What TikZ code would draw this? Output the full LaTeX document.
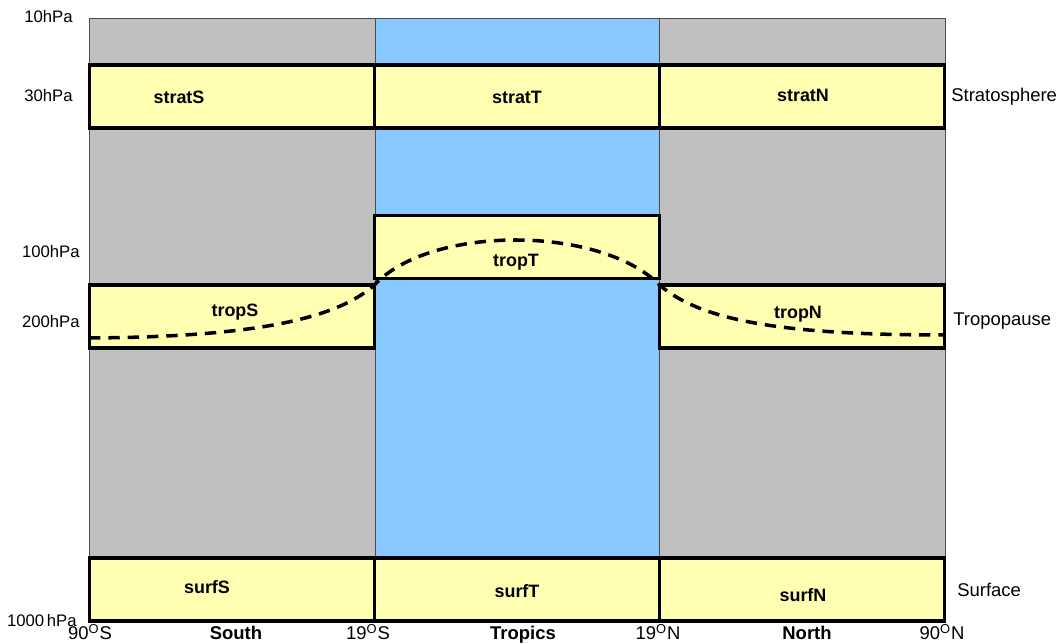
\documentclass[tikz,border=0pt]{standalone}
\usepackage{fontspec}
\setmainfont{Liberation Sans}
\usetikzlibrary{positioning}
\definecolor{bandgray}{RGB}{192,192,192}
\definecolor{tropblue}{RGB}{134,200,255}
\definecolor{boxyellow}{RGB}{255,255,178}

\begin{document}
\begin{tikzpicture}[
  x=0.02cm, y=-0.02cm,
  font=\fontsize{10.5}{12}\selectfont,
  box/.style={draw, line width=1.8pt, fill=boxyellow, outer sep=0pt, inner sep=0pt, minimum width=5.7cm, minimum height=1.26cm},
  tag/.style={font=\fontsize{10.2}{12}\selectfont\bfseries},
  lev/.style={anchor=east, inner sep=0pt, font=\fontsize{9.5}{11}\selectfont},
  zone/.style={anchor=west, inner sep=0pt},
  lat/.style={anchor=base, inner sep=0pt},
  latb/.style={lat, font=\fontsize{10.5}{12}\selectfont\bfseries},
  tropline/.style={line width=2pt, dash pattern=on 6.5pt off 4.5pt}
]
\useasboundingbox (0,0) rectangle (1062,644);
% latitude bands
\fill[bandgray] (89,18) rectangle (945,621);
\fill[tropblue] (375,18) rectangle (659,621);
\draw[gray!60!black, line width=0.5pt] (89,18) rectangle (945,621);
\draw[gray!60!black, line width=0.4pt] (375,18) -- (375,621) (659,18) -- (659,621);

% boxes
\node[box] (stratS) at (232,96.5) {};
\node[box, right=0pt of stratS] (stratT) {};
\node[box, right=0pt of stratT] (stratN) {};
\node[box] (tropS) at (232,316.5) {};
\node[box] (tropT) at (517,247) {};
\node[box] (tropN) at (802,316.5) {};
\node[box] (surfS) at (232,589.5) {};
\node[box, right=0pt of surfS] (surfT) {};
\node[box, right=0pt of surfT] (surfN) {};

\node[tag] (lstratS) at (179,97.5) {stratS};
\node[tag] (lstratT) at (517,97) {stratT};
\node[tag] (lstratN) at (803,95) {stratN};
\node[tag] (ltropS) at (235,312) {tropS};
\node[tag] (ltropT) at (516,262) {tropT};
\node[tag] (ltropN) at (798,314) {tropN};
\node[tag] (lsurfS) at (207,587) {surfS};
\node[tag] (lsurfT) at (517,591) {surfT};
\node[tag] (lsurfN) at (803,595) {surfN};

% tropopause
\draw[tropline] (89,338) .. controls (250,337) and (335,320) .. (tropS.north east)
  .. controls (430,225) and (600,225) .. (tropN.north west)
  .. controls (700,320) and (780,335) .. (945,335);

% pressure levels
\node[lev] (p10) at (73,17) {10hPa};
\node[lev] (p30) at (73,96) {30hPa};
\node[lev] (p100) at (80,252) {100hPa};
\node[lev] (p200) at (80,322) {200hPa};
\node[lev] (p1000) at (77,621) {1000\,hPa};

\node[zone] (zstrat) at (951,97) {Stratosphere};
\node[zone] (ztrop) at (953,321) {Tropopause};
\node[zone] (zsurf) at (957,590) {Surface};

% latitudes
\node[lat] (s90) at (90,640) {90\textsuperscript{O}S};
\node[latb] (south) at (236,640) {South};
\node[lat] (s19) at (368,640) {19\textsuperscript{O}S};
\node[latb] (tropics) at (523,640) {Tropics};
\node[lat] (n19) at (658,640) {19\textsuperscript{O}N};
\node[latb] (north) at (807,640) {North};
\node[lat] (n90) at (942,640) {90\textsuperscript{O}N};
\end{tikzpicture}
\end{document}
